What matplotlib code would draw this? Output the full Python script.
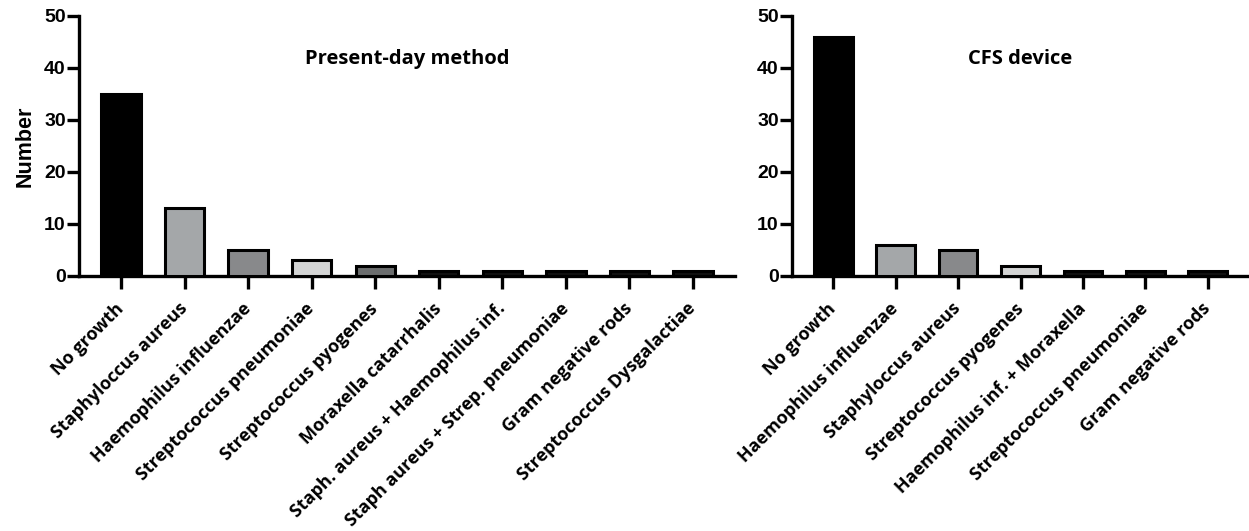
import matplotlib
matplotlib.use("Agg")
import matplotlib.pyplot as plt

# Data
left_categories = ["No growth", "Staphyloccus aureus", "Haemophilus influenzae",
                   "Streptococcus pneumoniae", "Streptococcus pyogenes",
                   "Moraxella catarrhalis", "Staph. aureus + Haemophilus inf.",
                   "Staph aureus + Strep. pneumoniae", "Gram negative rods",
                   "Streptococcus Dysgalactiae"]
left_values = [35, 13, 5, 3, 2, 1, 1, 1, 1, 1]
left_title = "Present-day method"

right_categories = ["No growth", "Haemophilus influenzae", "Staphyloccus aureus",
                    "Streptococcus pyogenes", "Haemophilus inf. + Moraxella",
                    "Streptococcus pneumoniae", "Gram negative rods"]
right_values = [46, 6, 5, 2, 1, 1, 1]
right_title = "CFS device"

y_ticks = [0, 10, 20, 30, 40, 50]
y_label = "Number"

left_colors = ["#000000", "#a4a7a9", "#88898b", "#d3d4d4", "#6b6d6e",
               "#111111", "#111111", "#111111", "#111111", "#111111"]
right_colors = ["#000000", "#a4a7a9", "#88898b", "#d3d4d4",
                "#111111", "#111111", "#111111"]

W, H = 1249, 531
fig = plt.figure(figsize=(W / 100, H / 100), dpi=100)

label_font = "Open Sans"
num_font = "Liberation Sans"


def make_axes(rect, cats, vals, colors, title, show_ylabel):
    ax = fig.add_axes(rect)
    x = list(range(len(cats)))
    ax.bar(x, vals, width=0.62, color=colors,
           edgecolor="black", linewidth=2.2, zorder=3)
    ax.set_xlim(-0.66, len(cats) - 1 + 0.66)
    ax.set_ylim(0, 50)
    ax.set_yticks(y_ticks)
    ax.set_yticklabels([str(t) for t in y_ticks], fontfamily=num_font,
                       fontweight="bold", fontsize=14)
    ax.set_xticks(x)
    ax.set_xticklabels(cats, rotation=45, ha="right", va="center",
                       rotation_mode="anchor", fontfamily=label_font,
                       fontweight="bold", fontsize=13)
    for s in ["top", "right"]:
        ax.spines[s].set_visible(False)
    for s in ["left", "bottom"]:
        ax.spines[s].set_linewidth(2.4)
    ax.tick_params(axis="y", length=8.5, width=2.4, pad=1)
    ax.tick_params(axis="x", length=9.5, width=2.4, pad=12)
    ax.text(0.5, 0.835, title, transform=ax.transAxes, ha="center", va="center",
            fontfamily=label_font, fontweight="bold", fontsize=14.5)
    if show_ylabel:
        ax.set_ylabel(y_label, fontfamily=num_font, fontweight="bold",
                      fontsize=15.5, labelpad=6)
    return ax


top = (H - 276) / H
height = 260 / H
make_axes([79 / W, top, 656 / W, height], left_categories, left_values,
          left_colors, left_title, True)
make_axes([792 / W, top, 457 / W, height], right_categories, right_values,
          right_colors, right_title, False)

fig.savefig("out.png", dpi=100)
